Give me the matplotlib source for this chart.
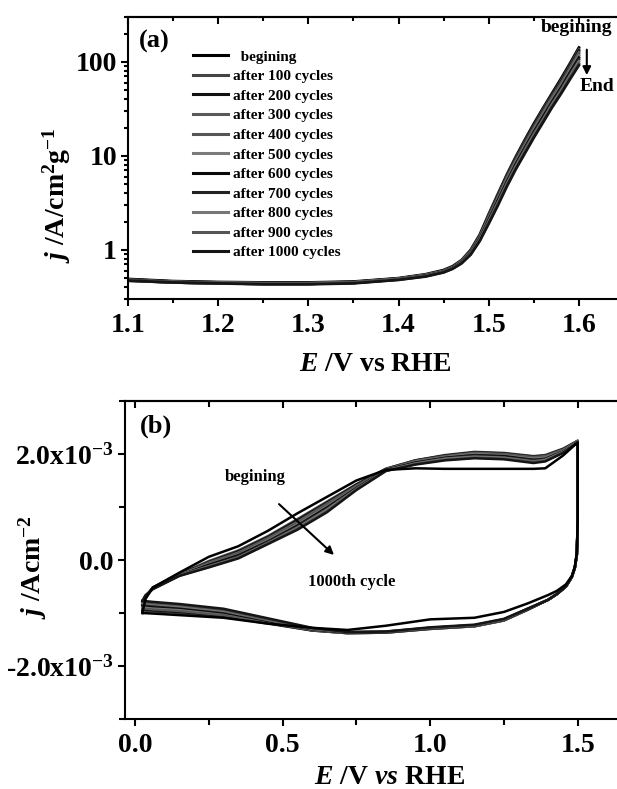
import matplotlib
matplotlib.use("Agg")
import matplotlib.pyplot as plt
from matplotlib.ticker import FixedLocator, LogLocator, NullFormatter, MultipleLocator

plt.rcParams["font.family"] = ["Liberation Serif", "DejaVu Serif"]
plt.rcParams["font.weight"] = "bold"
plt.rcParams["mathtext.fontset"] = "custom"
plt.rcParams["mathtext.rm"] = "Liberation Serif:bold"
plt.rcParams["mathtext.bf"] = "Liberation Serif:bold"
plt.rcParams["mathtext.it"] = "Liberation Serif:bold:italic"
plt.rcParams["axes.linewidth"] = 1.5

cycle_names = ["  begining", "after 100 cycles", "after 200 cycles", "after 300 cycles",
               "after 400 cycles", "after 500 cycles", "after 600 cycles", "after 700 cycles",
               "after 800 cycles", "after 900 cycles", "after 1000 cycles"]
cycle_colors = ["#000000", "#444444", "#111111", "#5a5a5a", "#555555", "#7a7a7a",
                "#0a0a0a", "#222222", "#777777", "#555555", "#151515"]

# (a) polarisation curves, j in A/cm2 g
lsv_E = [1.10, 1.15, 1.20, 1.25, 1.30, 1.35, 1.40, 1.43, 1.45, 1.46, 1.47, 1.48,
         1.49, 1.50, 1.51, 1.52, 1.53, 1.54, 1.55, 1.56, 1.57, 1.58, 1.59, 1.60]
lsv_0 = [0.49, 0.465, 0.455, 0.45, 0.45, 0.46, 0.50, 0.55, 0.61, 0.67, 0.78, 1.00,
         1.45, 2.4, 3.9, 6.3, 9.8, 14.8, 22, 32, 46, 66, 96, 142]
lsv_100 = [0.48, 0.46, 0.45, 0.445, 0.445, 0.455, 0.495, 0.545, 0.60, 0.66, 0.77, 0.98,
           1.42, 2.35, 3.8, 6.1, 9.5, 14.3, 21, 31, 44, 63, 92, 136]
lsv_200 = [0.485, 0.46, 0.45, 0.445, 0.445, 0.455, 0.495, 0.54, 0.60, 0.66, 0.76, 0.97,
           1.40, 2.3, 3.7, 5.9, 9.2, 13.8, 20.5, 30, 43, 61, 89, 131]
lsv_300 = [0.48, 0.455, 0.445, 0.44, 0.44, 0.45, 0.49, 0.54, 0.595, 0.65, 0.76, 0.96,
           1.38, 2.25, 3.6, 5.8, 9.0, 13.4, 20, 29, 42, 59, 86, 126]
lsv_400 = [0.48, 0.455, 0.445, 0.44, 0.44, 0.45, 0.49, 0.535, 0.59, 0.65, 0.75, 0.95,
           1.36, 2.2, 3.5, 5.6, 8.7, 13.0, 19.3, 28, 40, 57, 83, 121]
lsv_500 = [0.475, 0.455, 0.445, 0.44, 0.44, 0.45, 0.49, 0.535, 0.59, 0.645, 0.75, 0.94,
           1.34, 2.15, 3.45, 5.5, 8.5, 12.6, 18.7, 27, 39, 55, 80, 116]
lsv_600 = [0.475, 0.45, 0.44, 0.435, 0.435, 0.445, 0.485, 0.53, 0.585, 0.64, 0.74, 0.93,
           1.32, 2.1, 3.35, 5.3, 8.2, 12.2, 18, 26, 37.5, 53, 77, 111]
lsv_700 = [0.475, 0.45, 0.44, 0.435, 0.435, 0.445, 0.485, 0.53, 0.585, 0.64, 0.735, 0.92,
           1.30, 2.05, 3.25, 5.15, 7.9, 11.8, 17.4, 25, 36, 51, 74, 106]
lsv_800 = [0.47, 0.45, 0.44, 0.435, 0.435, 0.445, 0.485, 0.525, 0.58, 0.635, 0.73, 0.91,
           1.28, 2.0, 3.15, 5.0, 7.7, 11.4, 16.8, 24, 35, 49, 71, 101]
lsv_900 = [0.47, 0.45, 0.44, 0.435, 0.435, 0.445, 0.48, 0.525, 0.58, 0.63, 0.725, 0.90,
           1.26, 1.95, 3.05, 4.85, 7.4, 11.0, 16.2, 23.3, 33.5, 47, 68, 96]
lsv_1000 = [0.47, 0.45, 0.44, 0.43, 0.43, 0.44, 0.48, 0.52, 0.575, 0.63, 0.72, 0.89,
            1.24, 1.9, 2.95, 4.7, 7.2, 10.6, 15.6, 22.5, 32.5, 45.5, 65, 92]
lsv_curves = [lsv_0, lsv_100, lsv_200, lsv_300, lsv_400, lsv_500,
              lsv_600, lsv_700, lsv_800, lsv_900, lsv_1000]

# (b) cyclic voltammograms, j in 1e-3 A/cm2 (anodic sweep then cathodic sweep)
cv_E_an = [0.025, 0.035, 0.06, 0.15, 0.25, 0.35, 0.45, 0.55, 0.65, 0.75, 0.85, 0.95,
           1.05, 1.15, 1.25, 1.35, 1.39, 1.45, 1.5]
cv_E_cat = [1.5, 1.497, 1.49, 1.48, 1.46, 1.43, 1.40, 1.33, 1.25, 1.15, 1.0, 0.85,
            0.72, 0.6, 0.45, 0.3, 0.15, 0.06, 0.025]

an_0 = [-1.00, -0.74, -0.52, -0.24, 0.06, 0.26, 0.55, 0.88, 1.19, 1.50, 1.70, 1.73,
        1.72, 1.72, 1.72, 1.72, 1.73, 1.97, 2.22]
an_100 = [-0.95, -0.71, -0.52, -0.27, -0.02, 0.18, 0.45, 0.77, 1.10, 1.43, 1.72, 1.88,
          1.98, 2.04, 2.02, 1.96, 1.98, 2.10, 2.25]
an_200 = [-0.93, -0.71, -0.52, -0.27, -0.04, 0.16, 0.43, 0.75, 1.08, 1.42, 1.72, 1.88,
          1.97, 2.03, 2.01, 1.95, 1.97, 2.09, 2.25]
an_300 = [-0.91, -0.70, -0.53, -0.28, -0.05, 0.14, 0.41, 0.72, 1.06, 1.40, 1.71, 1.87,
          1.96, 2.02, 2.00, 1.94, 1.96, 2.08, 2.24]
an_400 = [-0.89, -0.70, -0.53, -0.28, -0.07, 0.12, 0.39, 0.70, 1.03, 1.39, 1.71, 1.86,
          1.95, 2.01, 1.99, 1.92, 1.94, 2.07, 2.24]
an_500 = [-0.87, -0.69, -0.53, -0.28, -0.08, 0.10, 0.37, 0.67, 1.01, 1.37, 1.70, 1.85,
          1.94, 2.00, 1.97, 1.91, 1.93, 2.06, 2.24]
an_600 = [-0.85, -0.69, -0.54, -0.29, -0.09, 0.09, 0.35, 0.65, 0.99, 1.36, 1.70, 1.84,
          1.93, 1.98, 1.96, 1.89, 1.91, 2.05, 2.23]
an_700 = [-0.83, -0.68, -0.54, -0.29, -0.11, 0.07, 0.34, 0.63, 0.97, 1.35, 1.69, 1.83,
          1.92, 1.97, 1.94, 1.88, 1.90, 2.04, 2.23]
an_800 = [-0.81, -0.68, -0.54, -0.29, -0.12, 0.05, 0.32, 0.61, 0.95, 1.34, 1.69, 1.82,
          1.91, 1.95, 1.93, 1.86, 1.89, 2.04, 2.23]
an_900 = [-0.79, -0.67, -0.55, -0.30, -0.13, 0.04, 0.31, 0.59, 0.92, 1.33, 1.68, 1.81,
          1.89, 1.93, 1.91, 1.85, 1.87, 2.03, 2.22]
an_1000 = [-0.77, -0.67, -0.55, -0.30, -0.14, 0.03, 0.30, 0.57, 0.90, 1.32, 1.68, 1.80,
           1.88, 1.92, 1.90, 1.83, 1.86, 2.02, 2.22]

cat_0 = [0.8, 0.15, -0.13, -0.30, -0.46, -0.58, -0.66, -0.82, -0.98, -1.09, -1.12, -1.24,
         -1.32, -1.28, -1.20, -1.09, -1.04, -1.01, -1.00]
cat_100 = [0.8, 0.1, -0.15, -0.32, -0.50, -0.64, -0.75, -0.94, -1.14, -1.25, -1.30, -1.37,
           -1.38, -1.33, -1.20, -1.07, -1.00, -0.97, -0.95]
cat_200 = [0.8, 0.1, -0.15, -0.32, -0.50, -0.64, -0.75, -0.94, -1.14, -1.25, -1.30, -1.37,
           -1.38, -1.33, -1.19, -1.05, -0.98, -0.95, -0.93]
cat_300 = [0.8, 0.1, -0.15, -0.32, -0.50, -0.64, -0.75, -0.93, -1.14, -1.25, -1.29, -1.37,
           -1.38, -1.32, -1.18, -1.04, -0.96, -0.93, -0.91]
cat_400 = [0.8, 0.1, -0.15, -0.32, -0.50, -0.64, -0.75, -0.93, -1.13, -1.24, -1.29, -1.36,
           -1.37, -1.32, -1.17, -1.02, -0.94, -0.91, -0.89]
cat_500 = [0.8, 0.1, -0.15, -0.32, -0.50, -0.64, -0.75, -0.93, -1.13, -1.24, -1.29, -1.36,
           -1.37, -1.31, -1.16, -1.00, -0.92, -0.89, -0.87]
cat_600 = [0.8, 0.1, -0.15, -0.32, -0.50, -0.64, -0.75, -0.93, -1.13, -1.24, -1.29, -1.36,
           -1.37, -1.31, -1.15, -0.99, -0.90, -0.87, -0.85]
cat_700 = [0.8, 0.1, -0.15, -0.32, -0.50, -0.64, -0.75, -0.92, -1.12, -1.23, -1.28, -1.36,
           -1.37, -1.30, -1.14, -0.97, -0.88, -0.85, -0.83]
cat_800 = [0.8, 0.1, -0.15, -0.32, -0.50, -0.64, -0.75, -0.92, -1.12, -1.23, -1.28, -1.35,
           -1.36, -1.30, -1.13, -0.96, -0.87, -0.83, -0.81]
cat_900 = [0.8, 0.1, -0.15, -0.32, -0.50, -0.64, -0.75, -0.92, -1.12, -1.23, -1.28, -1.35,
           -1.36, -1.29, -1.12, -0.94, -0.85, -0.81, -0.79]
cat_1000 = [0.8, 0.1, -0.15, -0.32, -0.50, -0.64, -0.75, -0.92, -1.11, -1.22, -1.27, -1.35,
            -1.36, -1.28, -1.10, -0.92, -0.83, -0.79, -0.77]

cv_an = [an_0, an_100, an_200, an_300, an_400, an_500, an_600, an_700, an_800, an_900, an_1000]
cv_cat = [cat_0, cat_100, cat_200, cat_300, cat_400, cat_500, cat_600, cat_700, cat_800,
          cat_900, cat_1000]

W, H = 617, 789
fig = plt.figure(figsize=(W / 100, H / 100), dpi=100)

# ---------- panel (a)
ax = fig.add_axes([128 / W, 1 - 299 / H, 496 / W, 282 / H])
for name, col, jj in zip(cycle_names, cycle_colors, lsv_curves):
    ax.plot(lsv_E, jj, color=col, lw=2.0, label=name)
ax.set_yscale("log")
ax.set_xlim(1.1, 1.65)
ax.set_ylim(0.3, 300)
ax.xaxis.set_major_locator(MultipleLocator(0.1))
ax.xaxis.set_minor_locator(MultipleLocator(0.05))
ax.yaxis.set_major_locator(FixedLocator([1, 10, 100]))
ax.set_yticklabels(["1", "10", "100"])
ax.yaxis.set_minor_locator(LogLocator(base=10, subs=range(2, 10)))
ax.yaxis.set_minor_formatter(NullFormatter())
ax.tick_params(which="both", direction="out", labelsize=20, width=1.5, pad=3)
ax.tick_params(which="major", length=5)
ax.tick_params(which="minor", length=3)
ax.tick_params(axis="x", pad=5)
top = ax.secondary_xaxis("top")
top.xaxis.set_major_locator(MultipleLocator(0.1))
top.xaxis.set_minor_locator(MultipleLocator(0.05))
top.tick_params(which="both", direction="in", labeltop=False, width=1.5)
top.tick_params(which="major", length=5)
top.tick_params(which="minor", length=3)

leg = ax.legend(loc="upper left", bbox_to_anchor=(0.131, 0.883), frameon=False,
                fontsize=11, handlelength=2.3, handletextpad=0.33, labelspacing=0.385,
                borderpad=0, borderaxespad=0)
for ln in leg.get_lines():
    ln.set_linewidth(2.2)
ax.text(0.052, 0.915, "(a)", transform=ax.transAxes, fontsize=19, ha="center", va="center")
ax.text(0.905, 0.961, "begining", transform=ax.transAxes, fontsize=14, ha="center", va="center")
ax.text(0.946, 0.752, "End", transform=ax.transAxes, fontsize=14, ha="center", va="center")
ax.annotate("", xy=(0.925, 0.784), xytext=(0.925, 0.894), xycoords="axes fraction",
            arrowprops=dict(arrowstyle="-|>", color="black", lw=1.5, mutation_scale=12))

fig.text(57 / W, 1 - 195 / H, r"$\mathit{j}$ /A/cm$^2$g$^{-1}$", rotation=90,
         fontsize=20, ha="center", va="center")
fig.text(375 / W, 1 - 365 / H, r"$\mathit{E}$ /V vs RHE", fontsize=20, ha="center", va="center")

# ---------- panel (b)
bx = fig.add_axes([125 / W, 1 - 719 / H, 497 / W, 318 / H])
order = list(range(1, 11)) + [0]
for i in order:
    E = cv_E_an + cv_E_cat
    j = [v * 1e-3 for v in cv_an[i] + cv_cat[i]]
    bx.plot(E, j, color=cycle_colors[i], lw=1.8)
bx.set_xlim(-0.034, 1.65)
bx.set_ylim(-3e-3, 3e-3)
bx.xaxis.set_major_locator(MultipleLocator(0.5))
bx.xaxis.set_minor_locator(MultipleLocator(0.25))
bx.set_yticks([-2e-3, 0, 2e-3], labels=[r"-2.0x10$^{-3}$", "0.0", r"2.0x10$^{-3}$"])
bx.yaxis.set_minor_locator(MultipleLocator(1e-3))
bx.tick_params(which="both", direction="out", labelsize=20, width=1.5, pad=3)
bx.tick_params(which="major", length=5)
bx.tick_params(which="minor", length=4)
bx.tick_params(axis="x", pad=5)
btop = bx.secondary_xaxis("top")
btop.xaxis.set_major_locator(MultipleLocator(0.5))
btop.xaxis.set_minor_locator(MultipleLocator(0.25))
btop.tick_params(which="both", direction="in", labeltop=False, width=1.5)
btop.tick_params(which="major", length=5)
btop.tick_params(which="minor", length=4)

bx.text(0.062, 0.921, "(b)", transform=bx.transAxes, fontsize=19, ha="center", va="center")
bx.text(0.407, 1.57e-3, "begining", fontsize=12, ha="center", va="center")
bx.text(0.735, -0.415e-3, "1000th cycle", fontsize=12, ha="center", va="center")
bx.annotate("", xy=(0.681, 0.06e-3), xytext=(0.481, 1.09e-3),
            arrowprops=dict(arrowstyle="-|>", color="black", lw=1.5, mutation_scale=12))

fig.text(33 / W, 1 - 567 / H, r"$\mathit{j}$ /Acm$^{-2}$", rotation=90,
         fontsize=20, ha="center", va="center")
fig.text(389 / W, 1 - 778 / H, r"$\mathit{E}$ /V $\mathit{vs}$ RHE", fontsize=20,
         ha="center", va="center")

fig.savefig("out.png", dpi=100)
